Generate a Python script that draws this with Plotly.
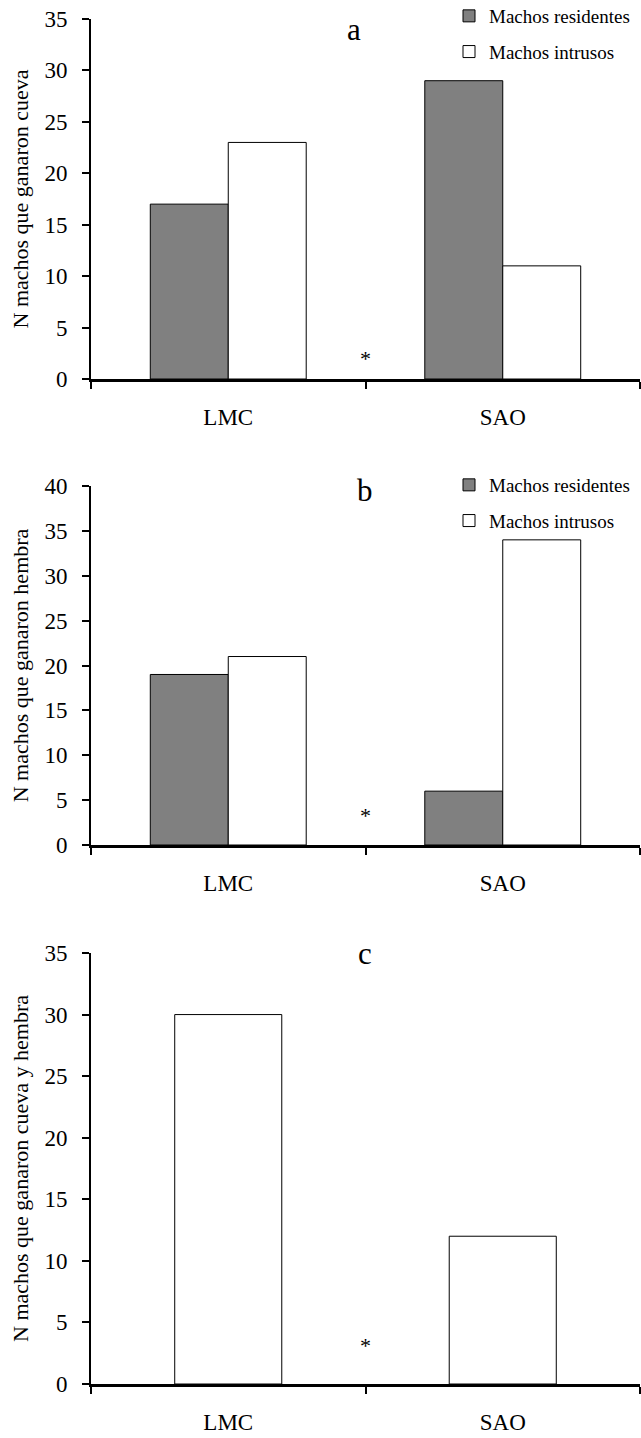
import plotly.graph_objects as go

categories = ["LMC", "SAO"]
series_names = ["Machos residentes", "Machos intrusos"]
a_residentes = [17, 29]
a_intrusos = [23, 11]
b_residentes = [19, 6]
b_intrusos = [21, 34]
c_values = [30, 12]
panel_letters = ["a", "b", "c"]
y_titles = ["N machos que ganaron cueva", "N machos que ganaron hembra",
            "N machos que ganaron cueva y hembra"]
y_ranges = [35, 40, 35]
asterisk_y = [1.95, 3.33, 3.15]

FONT = "Liberation Serif"
GRAY = "#808080"

fig = go.Figure()

W2 = 0.284
WC = 0.39

def add_pair(res, intr, xa, ya, legend):
    fig.add_trace(go.Bar(x=categories, y=res, name=series_names[0], xaxis=xa, yaxis=ya,
                         width=W2, offset=-W2, legendgroup="r" + legend,
                         marker=dict(color=GRAY, line=dict(color="black", width=1)),
                         legend=legend))
    fig.add_trace(go.Bar(x=categories, y=intr, name=series_names[1], xaxis=xa, yaxis=ya,
                         width=W2, offset=0, legendgroup="i" + legend,
                         marker=dict(color="white", line=dict(color="black", width=1)),
                         legend=legend))

add_pair(a_residentes, a_intrusos, "x", "y", "legend")
add_pair(b_residentes, b_intrusos, "x2", "y2", "legend2")
fig.add_trace(go.Bar(x=categories, y=c_values, name=series_names[1], xaxis="x3", yaxis="y3",
                     width=WC, offset=-WC / 2, showlegend=False,
                     marker=dict(color="white", line=dict(color="black", width=1))))

T, B, L, R = 19, 54, 91, 1
H = 1438
plot_h = H - T - B
plot_w = 641 - L - R

def frac(p):
    return (H - B - p) / plot_h

def xfrac(p):
    return (p - L) / plot_w

domains = [[frac(379), frac(19)], [frac(845), frac(486)], [frac(1384), frac(953)]]

xaxis_common = dict(type="category", range=[-0.5, 1.5], tickson="boundaries", ticks="outside",
                    ticklen=7, tickwidth=2, tickcolor="black", showline=True, linewidth=3,
                    linecolor="black", showgrid=False, zeroline=False,
                    tickfont=dict(family=FONT, size=23, color="black"), ticklabelstandoff=15)

for i in range(3):
    sx = "" if i == 0 else str(i + 1)
    xa = dict(xaxis_common, domain=[0, 1], anchor="y" + sx)
    ya = dict(domain=domains[i], range=[0, y_ranges[i]], dtick=5, ticks="outside", ticklen=7,
              tickwidth=1.5, tickcolor="black", showline=True, linewidth=2, linecolor="black",
              showgrid=False, zeroline=False, anchor="x" + sx, ticklabelstandoff=10,
              tickfont=dict(family=FONT, size=23, color="black"),
              title=dict(text=y_titles[i], font=dict(family=FONT, size=22, color="black"), standoff=10))
    fig.update_layout(**{"xaxis" + sx: xa, "yaxis" + sx: ya})

letter_px = [30, 490, 953]
letter_x = [354, 365, 365]
for i in range(3):
    fig.add_annotation(text=panel_letters[i], xref="paper", yref="paper", x=xfrac(letter_x[i]),
                       y=frac(letter_px[i]), xanchor="center", yanchor="middle",
                       showarrow=False, font=dict(family=FONT, size=31, color="black"))
    sx = "" if i == 0 else str(i + 1)
    fig.add_annotation(text="*", xref="x" + sx, yref="y" + sx, x=0.5, y=asterisk_y[i],
                       xanchor="center", yanchor="middle",
                       showarrow=False, font=dict(family=FONT, size=22, color="black"))

legend_style = dict(font=dict(family=FONT, size=19, color="black"), itemwidth=30,
                    bgcolor="rgba(0,0,0,0)", xanchor="left", yanchor="top", x=xfrac(449),
                    tracegroupgap=8, traceorder="grouped")
fig.update_layout(
    width=641, height=H, margin=dict(l=L, r=R, t=T, b=B, autoexpand=False),
    paper_bgcolor="white", plot_bgcolor="white", barmode="overlay",
    legend=dict(legend_style, y=frac(-3)),
    legend2=dict(legend_style, y=frac(466)),
)

fig.write_html("out.html")
